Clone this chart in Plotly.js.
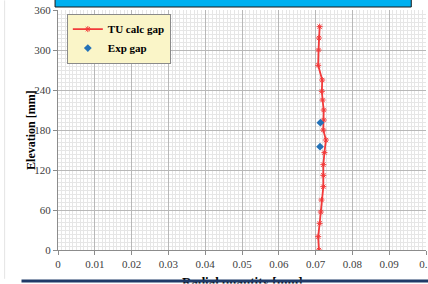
<!DOCTYPE html>
<html>
<head>
<meta charset="utf-8">
<script src="https://cdn.plot.ly/plotly-3.0.1.min.js"></script>
<style>html,body{margin:0;padding:0;background:#fff;}#chart{width:428px;height:284px;}</style>
</head>
<body>
<div id="chart"></div>
<script>
// Data
const calcElevation = [0, 20, 40, 57, 75, 95, 112, 128, 146, 165, 180, 195, 210, 225, 238, 255, 277, 300, 318, 335];
const calcGap = [0.0709, 0.0707, 0.0711, 0.0714, 0.0716, 0.0721, 0.0721, 0.0721, 0.0724, 0.0728, 0.0721, 0.0722, 0.0722, 0.0719, 0.0717, 0.0718, 0.0707, 0.0708, 0.0709, 0.0711];
const expElevation = [191, 155];
const expGap = [0.0713, 0.0712];
const xTicks = [0, 0.01, 0.02, 0.03, 0.04, 0.05, 0.06, 0.07, 0.08, 0.09, 0.1];
const xTickLabels = ['0', '0.01', '0.02', '0.03', '0.04', '0.05', '0.06', '0.07', '0.08', '0.09', '0.1'];
const yTicks = [0, 60, 120, 180, 240, 300, 360];
const seriesNames = ['TU calc gap', 'Exp gap'];
const xTitle = 'Radial quantity [mm]';
const yTitle = 'Elevation [mm]';

const serif = 'Liberation Serif';

const traces = [
  {
    x: calcGap, y: calcElevation, name: seriesNames[0], type: 'scatter', mode: 'lines+markers',
    line: {color: '#F23A3A', width: 1.8},
    marker: {symbol: 'asterisk-open', size: 5, color: '#F23A3A', line: {color: '#F23A3A', width: 1}}
  },
  {
    x: expGap, y: expElevation, name: seriesNames[1], type: 'scatter', mode: 'markers',
    marker: {symbol: 'diamond', size: 6, color: '#2472B8'}
  }
];

const layout = {
  width: 428, height: 284,
  margin: {l: 58, r: 2, t: 10, b: 34},
  paper_bgcolor: '#ffffff', plot_bgcolor: '#ffffff',
  font: {family: serif},
  showlegend: true,
  legend: {
    x: 0.024, y: 0.985, xanchor: 'left', yanchor: 'top',
    bgcolor: '#FAF5C8', bordercolor: '#8A8A8A', borderwidth: 1,
    font: {family: serif, size: 11, color: '#000', weight: 'bold'},
    itemwidth: 30, tracegroupgap: 0
  },
  xaxis: {
    range: [0, 0.1], tickvals: xTicks, ticktext: xTickLabels,
    showgrid: true, gridcolor: '#B8B8B8', gridwidth: 1,
    minor: {dtick: 0.001, showgrid: true, gridcolor: '#E6E6E6', gridwidth: 1},
    showline: true, linecolor: '#8C8C8C', linewidth: 1,
    ticks: 'outside', ticklen: 4, tickcolor: '#8C8C8C',
    tickfont: {family: serif, size: 11, color: '#404040'},
    ticklabeloverflow: 'allow',
    zeroline: false, fixedrange: true
  },
  yaxis: {
    range: [0, 360], tickvals: yTicks,
    showgrid: true, gridcolor: '#B8B8B8', gridwidth: 1,
    minor: {dtick: 6, showgrid: true, gridcolor: '#E6E6E6', gridwidth: 1},
    showline: true, linecolor: '#8C8C8C', linewidth: 1,
    ticks: 'outside', ticklen: 4, tickcolor: '#8C8C8C',
    tickfont: {family: serif, size: 11, color: '#404040'},
    zeroline: false, fixedrange: true
  },
  shapes: [
    {type: 'rect', xref: 'paper', yref: 'paper', x0: -0.008, x1: 0.96, y0: 1.0125, y1: 1.08,
     fillcolor: '#00B0F0', line: {color: '#1A1A1A', width: 1}, layer: 'above'},
    {type: 'line', xref: 'paper', yref: 'paper', x0: -0.145, x1: -0.145, y0: 1.04, y1: -0.12,
     line: {color: '#E4E4E4', width: 1}, layer: 'below'}
  ],
  annotations: [
    {text: yTitle, xref: 'paper', yref: 'paper', x: -0.098, y: 0.5, textangle: -90,
     showarrow: false, font: {family: serif, size: 12, color: '#000', weight: 'bold'}},
    {text: xTitle, xref: 'paper', yref: 'paper', x: 0.5, y: -0.092, yanchor: 'top',
     showarrow: false, font: {family: serif, size: 13, color: '#000', weight: 'bold'}},
    {text: ' ', xref: 'paper', yref: 'paper', x: 0.5, y: -0.128, yanchor: 'middle', xanchor: 'center',
     showarrow: false, width: 440, height: 2, borderpad: 0, bgcolor: '#1F3A68', font: {size: 1}},
    {text: ' ', xref: 'paper', yref: 'paper', x: 0.5, y: -0.138, yanchor: 'top', xanchor: 'center',
     showarrow: false, width: 440, height: 6, borderpad: 0, bgcolor: '#ffffff', font: {size: 1}}
  ]
};

Plotly.newPlot('chart', traces, layout, {displayModeBar: false, staticPlot: true});
</script>
</body>
</html>
